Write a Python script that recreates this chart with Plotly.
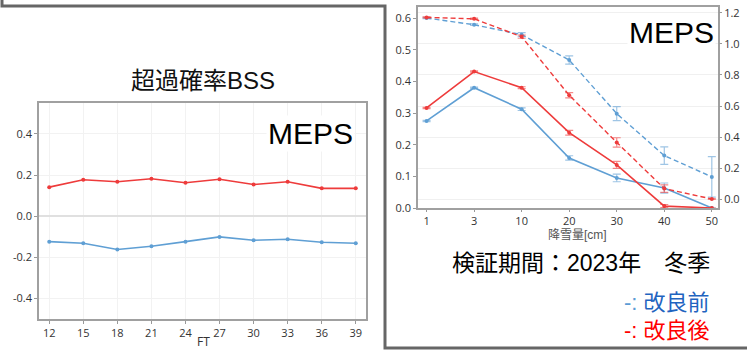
import plotly.graph_objects as go

W, H = 747, 351

# ---- Left chart data (超過確率BSS) ----
ft = [12, 15, 18, 21, 24, 27, 30, 33, 36, 39]
bss_before = [-0.124, -0.132, -0.162, -0.146, -0.124, -0.101, -0.117, -0.112, -0.127, -0.132]
bss_after = [0.141, 0.177, 0.167, 0.182, 0.162, 0.179, 0.154, 0.167, 0.135, 0.135]

# ---- Right chart data ----
snow_cats = ["1", "3", "10", "20", "30", "40", "50"]
solid_before = [0.275, 0.380, 0.312, 0.158, 0.095, 0.063, 0.0]
solid_before_err = [0.002, 0.002, 0.004, 0.007, 0.012, 0.016, 0.0]
solid_after = [0.316, 0.431, 0.380, 0.238, 0.136, 0.006, 0.0]
solid_after_err = [0.002, 0.002, 0.003, 0.0075, 0.011, 0.005, 0.0]
dash_before = [1.166, 1.123, 1.059, 0.896, 0.551, 0.281, 0.144]
dash_before_err = [0.004, 0.005, 0.013, 0.026, 0.045, 0.056, 0.13]
dash_after = [1.170, 1.161, 1.046, 0.669, 0.366, 0.069, 0.002]
dash_after_err = [0.003, 0.004, 0.01, 0.017, 0.03, 0.024, 0.003]

BLUE = "#5f9fd4"
RED = "#ee3b3b"
BLUE_ERR = "rgba(95,159,212,0.6)"
RED_ERR = "rgba(238,59,59,0.6)"

def px(x):
    return x / W

def py(y):
    return 1 - y / H

TICKFONT = dict(family="Open Sans, DejaVu Sans, sans-serif", size=11, color="#333")
TXT = "Liberation Sans, Noto Sans CJK JP, sans-serif"

fig = go.Figure()

# Left chart traces
fig.add_trace(go.Scatter(x=ft, y=bss_before, mode="lines+markers",
                         line=dict(color=BLUE, width=1.6),
                         marker=dict(color=BLUE, size=4),
                         xaxis="x", yaxis="y", showlegend=False))
fig.add_trace(go.Scatter(x=ft, y=bss_after, mode="lines+markers",
                         line=dict(color=RED, width=1.6),
                         marker=dict(color=RED, size=4),
                         xaxis="x", yaxis="y", showlegend=False))

# Right chart traces - solid (left axis)
fig.add_trace(go.Scatter(x=snow_cats, y=solid_before, mode="lines+markers",
                         line=dict(color=BLUE, width=1.6),
                         marker=dict(color=BLUE, size=4),
                         error_y=dict(type="data", array=solid_before_err, color=BLUE_ERR, thickness=1.2, width=4),
                         xaxis="x2", yaxis="y2", showlegend=False))
fig.add_trace(go.Scatter(x=snow_cats, y=solid_after, mode="lines+markers",
                         line=dict(color=RED, width=1.6),
                         marker=dict(color=RED, size=4),
                         error_y=dict(type="data", array=solid_after_err, color=RED_ERR, thickness=1.2, width=4),
                         xaxis="x2", yaxis="y2", showlegend=False))
# dashed (right axis)
fig.add_trace(go.Scatter(x=snow_cats, y=dash_before, mode="lines+markers",
                         line=dict(color=BLUE, width=1.4, dash="5px,3px"),
                         marker=dict(color=BLUE, size=4),
                         error_y=dict(type="data", array=dash_before_err, color=BLUE_ERR, thickness=1.2, width=4),
                         xaxis="x2", yaxis="y3", showlegend=False))
fig.add_trace(go.Scatter(x=snow_cats, y=dash_after, mode="lines+markers",
                         line=dict(color=RED, width=1.4, dash="5px,3px"),
                         marker=dict(color=RED, size=4),
                         error_y=dict(type="data", array=dash_after_err, color=RED_ERR, thickness=1.2, width=4),
                         xaxis="x2", yaxis="y3", showlegend=False))

frame = dict(showline=True, linecolor="#a0a0a0", linewidth=1.5, mirror=True)

fig.update_layout(
    width=W, height=H,
    margin=dict(l=0, r=0, t=0, b=0, pad=0),
    paper_bgcolor="white", plot_bgcolor="white",
    xaxis=dict(domain=[px(39), px(366)], anchor="y", range=[11.1, 39.9],
               tickvals=ft, ticks="outside", ticklen=3, tickcolor="#999",
               showgrid=True, gridcolor="#f2f2f2", zeroline=False,
               tickfont=TICKFONT, automargin=False, **frame),
    yaxis=dict(domain=[py(319), py(103)], anchor="x", range=[-0.5, 0.55],
               tickvals=[-0.4, -0.2, 0.0, 0.2, 0.4], ticktext=["-0.4", "-0.2", "0.0", "0.2", "0.4"],
               ticks="outside", ticklen=3, tickcolor="#999",
               showgrid=True, gridcolor="#f2f2f2", zeroline=True, zerolinecolor="#e0e0e0", zerolinewidth=1.5,
               tickfont=TICKFONT, automargin=False, **frame),
    xaxis2=dict(domain=[px(418), px(718)], anchor="y2", type="category", range=[-0.18, 6.13],
                ticks="outside", ticklen=2, tickcolor="#999", showgrid=False,
                tickfont=TICKFONT, automargin=False, **frame),
    yaxis2=dict(domain=[py(208), py(7)], anchor="x2", range=[0, 0.635],
                tickvals=[0, 0.1, 0.2, 0.3, 0.4, 0.5, 0.6], ticktext=["0.0", "0.1", "0.2", "0.3", "0.4", "0.5", "0.6"],
                ticks="outside", ticklen=3, tickcolor="#999", showgrid=False, zeroline=False,
                tickfont=TICKFONT, automargin=False, **frame),
    yaxis3=dict(overlaying="y2", side="right", anchor="x2", range=[-0.056, 1.237],
                tickvals=[0, 0.2, 0.4, 0.6, 0.8, 1.0, 1.2], ticktext=["0.0", "0.2", "0.4", "0.6", "0.8", "1.0", "1.2"],
                ticks="outside", ticklen=3, tickcolor="#999",
                showgrid=True, gridcolor="#f0f0f0", zeroline=False,
                tickfont=TICKFONT, automargin=False, showline=False),
)

annotations = [
    dict(x=px(203), y=py(80), text="超過確率BSS", font=dict(family=TXT, size=24, color="#111")),
    dict(x=px(203), y=py(341), text="FT", font=dict(family=TICKFONT["family"], size=12, color="#333")),
    dict(x=px(310), y=py(133), text="MEPS", font=dict(family=TXT, size=30, color="black"), bgcolor="white"),
    dict(x=px(671), y=py(32), text="MEPS", font=dict(family=TXT, size=30, color="black"), bgcolor="white"),
    dict(x=px(577), y=py(235), text="降雪量[cm]", font=dict(family=TXT, size=12, color="#555")),
    dict(x=px(712), y=py(263), text="検証期間：2023年　冬季", xanchor="right",
         font=dict(family=TXT, size=23, color="black")),
    dict(x=px(712), y=py(302), text="<span style='color:#5b9bd5'>-: </span>改良前", xanchor="right",
         font=dict(family=TXT, size=22, color="#1f64c0")),
    dict(x=px(712), y=py(330), text="-: 改良後", xanchor="right",
         font=dict(family=TXT, size=22, color="#ff0000")),
]
for a in annotations:
    a.update(xref="paper", yref="paper", showarrow=False)
    a.setdefault("xanchor", "center")
    a.setdefault("yanchor", "middle")
fig.update_layout(annotations=annotations)

# Slide borders (outline shape)
path = (f"M {px(2)},{py(0)} L {px(2)},{py(6)} L {px(385)},{py(6)} "
        f"L {px(385)},{py(348)} L {px(747)},{py(348)}")
fig.add_shape(type="path", path=path, xref="paper", yref="paper",
              line=dict(color="#666666", width=3))

fig.write_html("out.html", config={"displayModeBar": False},
               post_script="document.body.style.margin='0px';")
